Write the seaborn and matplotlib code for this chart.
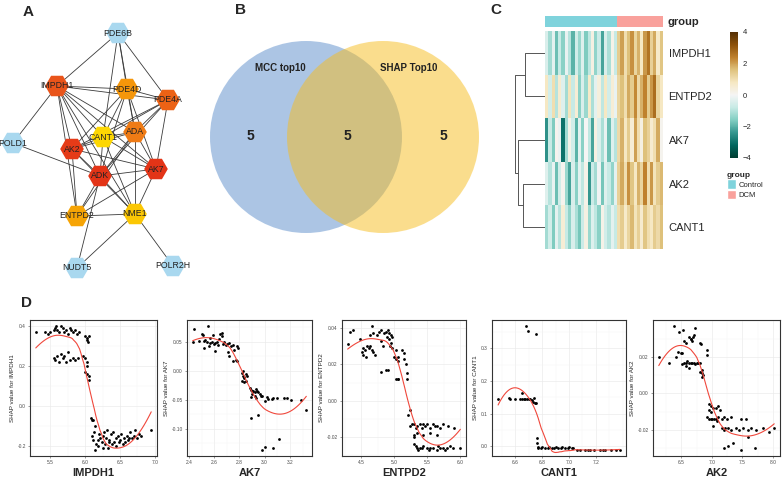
import numpy as np
import pandas as pd
import matplotlib
matplotlib.use("Agg")
import matplotlib.pyplot as plt
import seaborn as sns
from matplotlib.patches import Circle, Patch
from matplotlib.colors import ListedColormap
from matplotlib.ticker import AutoMinorLocator, FormatStrFormatter, FixedLocator

# ---------------- data ----------------
# A: PPI network (node layout as in the Cytoscape export, pixel units)
node_names = ["PDE6B", "IMPDH1", "PDE4D", "PDE4A", "POLD1", "CANT1", "ADA",
              "AK2", "AK7", "ADK", "ENTPD2", "NME1", "NUDT5", "POLR2H"]
node_x = [118, 57, 127, 168, 13, 103, 135, 72, 156, 100, 77, 135, 77, 173]
node_y = [33, 86, 89, 100, 143, 137, 132, 149, 169, 176, 216, 214, 268, 266]
node_colors = ["#a9d8ef", "#e9541a", "#f5960a", "#ec6215", "#a9d8ef", "#fdd703", "#ef7b15",
               "#e53b18", "#e33417", "#e33417", "#f6a405", "#fbc704", "#a9d8ef", "#a9d8ef"]
edges = [("PDE6B", "IMPDH1"), ("PDE6B", "PDE4D"), ("PDE6B", "PDE4A"), ("PDE6B", "CANT1"),
         ("PDE6B", "ADA"), ("IMPDH1", "PDE4D"), ("IMPDH1", "PDE4A"), ("IMPDH1", "CANT1"),
         ("IMPDH1", "ADA"), ("IMPDH1", "AK2"), ("IMPDH1", "ADK"), ("IMPDH1", "AK7"),
         ("IMPDH1", "ENTPD2"), ("IMPDH1", "POLD1"), ("IMPDH1", "NME1"), ("POLD1", "ADK"),
         ("PDE4D", "PDE4A"), ("PDE4D", "CANT1"), ("PDE4D", "ADA"), ("PDE4D", "ADK"),
         ("PDE4D", "AK7"), ("PDE4D", "AK2"), ("PDE4A", "ADA"), ("PDE4A", "CANT1"),
         ("PDE4A", "ADK"), ("PDE4A", "AK7"), ("PDE4A", "AK2"), ("CANT1", "AK2"),
         ("CANT1", "ADK"), ("CANT1", "AK7"), ("CANT1", "NME1"), ("CANT1", "ADA"),
         ("ADA", "ADK"), ("ADA", "AK2"), ("ADA", "AK7"), ("ADA", "NME1"), ("ADA", "ENTPD2"),
         ("AK2", "ADK"), ("AK2", "AK7"), ("AK2", "ENTPD2"), ("AK2", "NME1"),
         ("AK7", "ADK"), ("AK7", "ENTPD2"), ("AK7", "NME1"), ("ADK", "ENTPD2"),
         ("ADK", "NME1"), ("ADK", "NUDT5"), ("ENTPD2", "NME1"), ("NME1", "NUDT5"),
         ("NME1", "POLR2H")]

# B: Venn counts
venn_sets = ["MCC top10", "SHAP Top10"]
venn_counts = [5, 5, 5]  # left only, both, right only

# C: heatmap (z-scores), 22 Control + 14 DCM samples
hm_genes = ["IMPDH1", "ENTPD2", "AK7", "AK2", "CANT1"]
hm_groups = ["Control"] * 22 + ["DCM"] * 14
impdh1_z = [-0.5, -1.2, -0.3, -1.8, -0.8, -1.5, -0.2, -1.0, -2.0, -0.6, -1.3, -0.4, -1.6, -0.9, 0.3, -1.4,
            -0.7, -2.2, -0.5, -1.1, 0.2, -0.8,
            1.4, 2.0, 1.0, 1.6, 2.2, 1.2, 1.8, 0.8, 2.1, 2.6, 1.3, 1.9, 0.7, 1.5]
entpd2_z = [0.8, -0.6, 1.0, -1.0, 0.6, -0.4, -1.2, 0.9, -0.8, 0.5, -1.5, -0.5, -1.3, 0.7, -1.1, -0.3,
            0.4, -0.9, 0.8, -0.6, 0.5, -0.2,
            1.2, 1.6, 1.0, 1.9, 1.4, 2.3, 1.1, 1.8, 2.4, 1.4, 2.1, 2.7, 1.2, 0.8]
ak7_z = [-2.5, -0.8, -1.6, 0.1, -0.2, -3.0, -1.2, 0.2, -0.6, -2.0, -0.3, -1.5, 0.0, -0.9, -2.2, 0.3,
         -0.5, -1.1, -0.2, -1.8, -0.4, -1.0,
         1.1, 1.8, 0.8, 1.4, 0.5, 2.0, 1.0, 0.3, 1.6, 1.3, 0.6, 1.0, 1.9, 0.1]
ak2_z = [-0.4, -1.0, -0.2, -1.8, -0.6, 0.1, -1.3, -2.2, -0.5, -1.5, -0.3, -0.9, 0.2, -2.4, -0.7, -1.2,
         -0.1, -1.7, -0.4, -0.8, -1.4, -0.3,
         1.3, 1.9, 1.0, 2.2, 1.5, 0.8, 1.8, 1.2, 2.4, 1.0, 2.1, 0.9, 1.4, 1.7]
cant1_z = [-1.2, -0.6, -1.6, -0.3, -1.0, 0.5, -0.8, -1.4, -0.5, -1.1, -1.7, -0.7, 0.3, -1.3, -0.4, -0.9,
           -1.5, 0.2, -0.6, -1.0, -0.3, -0.8,
           1.0, 1.4, 0.7, 1.2, 1.7, 0.9, 1.3, 0.6, 1.5, 1.0, 0.8, 1.4, 1.1, 1.6]
# row dendrogram merges: (left cluster, right cluster, height)
dendro_merges = [("IMPDH1", "ENTPD2", 2.0), ("AK2", "CANT1", 2.2),
                 ("AK7", "AK2+CANT1", 2.7), ("IMPDH1+ENTPD2", "AK7+AK2+CANT1", 3.0)]
cbar_ticks = [-4, -2, 0, 2, 4]

# D: SHAP dependence points (expression, SHAP value)
impdh1_pts = [(5.29, 0.37), (5.42, 0.37), (5.47, 0.36), (5.50, 0.37), (5.55, 0.38), (5.57, 0.39),
              (5.58, 0.40), (5.60, 0.38), (5.62, 0.37), (5.65, 0.40), (5.68, 0.39), (5.70, 0.37),
              (5.72, 0.38), (5.75, 0.36), (5.78, 0.39), (5.80, 0.38), (5.83, 0.37), (5.86, 0.38),
              (5.88, 0.36), (5.91, 0.37), (6.00, 0.35), (6.02, 0.34), (6.03, 0.33), (6.05, 0.35),
              (6.04, 0.32), (5.55, 0.24), (5.57, 0.23), (5.60, 0.25), (5.62, 0.22), (5.65, 0.26),
              (5.68, 0.24), (5.70, 0.25), (5.72, 0.22), (5.75, 0.27), (5.78, 0.23), (5.82, 0.24),
              (5.85, 0.23), (5.90, 0.24), (5.97, 0.25), (6.00, 0.24), (6.02, 0.22), (6.03, 0.20),
              (6.00, 0.17), (6.02, 0.16), (6.05, 0.15), (6.06, 0.13), (6.08, -0.06), (6.10, -0.07),
              (6.12, -0.07), (6.14, -0.10), (6.13, -0.13), (6.10, -0.15), (6.12, -0.17),
              (6.14, -0.22), (6.16, -0.19), (6.18, -0.20), (6.20, -0.14), (6.22, -0.16),
              (6.24, -0.18), (6.25, -0.21), (6.27, -0.13), (6.28, -0.19), (6.30, -0.16),
              (6.32, -0.12), (6.33, -0.21), (6.35, -0.17), (6.37, -0.14), (6.38, -0.19),
              (6.40, -0.13), (6.42, -0.18), (6.44, -0.16), (6.45, -0.20), (6.47, -0.15),
              (6.50, -0.17), (6.52, -0.14), (6.54, -0.19), (6.56, -0.16), (6.58, -0.18),
              (6.60, -0.15), (6.62, -0.17), (6.65, -0.13), (6.68, -0.16), (6.70, -0.15),
              (6.72, -0.12), (6.75, -0.16), (6.78, -0.14), (6.80, -0.15), (6.95, -0.12),
              (6.18, -0.17), (6.26, -0.15), (6.34, -0.18), (6.48, -0.18), (6.63, -0.16)]
ak7_pts = [(2.44, 0.072), (2.55, 0.077), (2.50, 0.063), (2.51, 0.061), (2.52, 0.052), (2.53, 0.054),
           (2.52, 0.040), (2.57, 0.056), (2.57, 0.048), (2.58, 0.049), (2.60, 0.047), (2.61, 0.048),
           (2.63, 0.045), (2.59, 0.061), (2.61, 0.034), (2.64, 0.055), (2.65, 0.064), (2.66, 0.065),
           (2.66, 0.060), (2.67, 0.046), (2.69, 0.044), (2.70, 0.046), (2.73, 0.043), (2.75, 0.044),
           (2.78, 0.043), (2.79, 0.040), (2.71, 0.032), (2.72, 0.026), (2.75, 0.017), (2.77, 0.018),
           (2.78, 0.017), (2.43, 0.050), (2.48, 0.052), (2.54, 0.050), (2.56, 0.043), (2.62, 0.050),
           (2.68, 0.050), (2.72, 0.048), (2.76, 0.036), (2.82, -0.003), (2.83, -0.008),
           (2.84, -0.013), (2.84, -0.010), (2.85, -0.017), (2.86, -0.008), (2.82, -0.017),
           (2.83, 0.000), (2.85, -0.005), (2.84, -0.020), (2.88, -0.030), (2.89, -0.033),
           (2.90, -0.035), (2.91, -0.034), (2.92, -0.036), (2.93, -0.032), (2.94, -0.035),
           (2.95, -0.037), (2.90, -0.040), (2.92, -0.043), (2.93, -0.047), (2.89, -0.045),
           (2.96, -0.040), (2.97, -0.044), (2.98, -0.043), (3.00, -0.052), (3.02, -0.045),
           (3.03, -0.048), (3.06, -0.048), (3.07, -0.047), (3.10, -0.047), (3.15, -0.047),
           (3.18, -0.046), (3.21, -0.051), (3.29, -0.051), (3.33, -0.068), (2.89, -0.082),
           (2.95, -0.076), (3.11, -0.118), (3.07, -0.133), (3.00, -0.131), (2.98, -0.136)]
entpd2_pts = [(4.29, 0.031), (4.32, 0.038), (4.37, 0.039), (4.48, 0.034), (4.51, 0.027), (4.53, 0.029),
              (4.56, 0.028), (4.58, 0.030), (4.61, 0.029), (4.63, 0.030), (4.53, 0.025), (4.57, 0.024),
              (4.66, 0.028), (4.68, 0.027), (4.70, 0.025), (4.66, 0.041), (4.63, 0.036), (4.68, 0.037),
              (4.73, 0.036), (4.76, 0.038), (4.80, 0.039), (4.84, 0.037), (4.87, 0.038), (4.90, 0.039),
              (4.92, 0.037), (4.95, 0.036), (4.89, 0.035), (4.92, 0.034), (4.97, 0.035), (4.95, 0.032),
              (4.80, 0.033), (4.82, 0.030), (4.93, 0.030), (4.97, 0.029), (5.02, 0.028), (4.79, 0.016),
              (4.87, 0.017), (4.90, 0.017), (5.00, 0.024), (5.03, 0.023), (5.05, 0.024), (5.06, 0.022),
              (5.03, 0.012), (5.05, 0.012), (5.06, 0.012), (5.11, 0.028), (5.14, 0.026), (5.14, 0.023),
              (5.17, 0.020), (5.19, 0.015), (5.19, 0.012), (5.23, -0.005), (5.21, -0.008),
              (5.24, -0.014), (5.27, -0.013), (5.29, -0.013), (5.32, -0.015), (5.34, -0.014),
              (5.39, -0.013), (5.42, -0.015), (5.44, -0.013), (5.47, -0.014), (5.49, -0.013),
              (5.54, -0.015), (5.59, -0.013), (5.61, -0.014), (5.64, -0.014), (5.69, -0.015),
              (5.74, -0.013), (5.81, -0.014), (5.91, -0.015), (5.34, -0.018), (5.44, -0.019),
              (5.54, -0.018), (5.64, -0.019), (5.29, -0.019), (5.30, -0.020), (5.29, -0.024),
              (5.32, -0.025), (5.34, -0.026), (5.39, -0.026), (5.42, -0.026), (5.44, -0.025),
              (5.49, -0.026), (5.54, -0.026), (5.59, -0.026), (5.64, -0.027), (5.69, -0.026),
              (5.74, -0.026), (5.79, -0.026), (5.84, -0.025), (5.89, -0.026), (6.00, -0.026),
              (5.36, -0.027), (5.52, -0.027), (5.66, -0.025), (5.77, -0.027)]
cant1_pts = [(6.47, 0.146), (6.55, 0.149), (6.56, 0.145), (6.595, 0.145), (6.63, 0.146), (6.645, 0.144),
             (6.66, 0.146), (6.67, 0.144), (6.685, 0.146), (6.70, 0.144), (6.71, 0.145), (6.72, 0.141),
             (6.65, 0.162), (6.73, 0.136), (6.745, 0.133), (6.755, 0.132), (6.74, 0.149),
             (6.68, 0.368), (6.69, 0.352), (6.755, 0.344), (6.76, 0.025), (6.76, 0.009),
             (6.77, -0.002), (6.77, -0.005), (6.80, -0.003), (6.82, -0.005), (6.85, -0.003),
             (6.87, -0.005), (6.90, -0.003), (6.92, -0.005), (6.95, -0.003), (6.97, -0.005),
             (7.00, -0.003), (7.02, -0.004), (7.03, -0.005), (6.79, -0.006), (6.84, -0.006),
             (6.89, -0.006), (6.94, -0.006), (6.99, -0.006), (7.06, -0.011), (7.08, -0.011),
             (7.12, -0.011), (7.16, -0.011), (7.19, -0.011), (7.23, -0.011), (7.27, -0.011),
             (7.31, -0.011), (7.35, -0.011), (7.38, -0.011), (7.14, -0.011), (7.25, -0.011)]
ak2_pts = [(6.13, 0.020), (6.30, 0.017), (6.38, 0.037), (6.46, 0.034), (6.53, 0.035), (6.54, 0.029),
           (6.57, 0.028), (6.44, 0.023), (6.49, 0.022), (6.51, 0.0225), (6.41, 0.020), (6.62, 0.031),
           (6.65, 0.030), (6.66, 0.030), (6.69, 0.031), (6.70, 0.032), (6.67, 0.029), (6.73, 0.036),
           (6.81, 0.028), (6.82, 0.027), (6.92, 0.024), (6.92, 0.021), (6.54, 0.017), (6.57, 0.017),
           (6.60, 0.018), (6.62, 0.017), (6.65, 0.017), (6.67, 0.017), (6.70, 0.017), (6.73, 0.016),
           (6.76, 0.017), (6.78, 0.017), (6.81, 0.017), (6.51, 0.016), (6.57, 0.015), (6.63, 0.014),
           (6.81, 0.012), (6.84, 0.011), (6.86, 0.010), (6.84, 0.009), (6.83, 0.013), (6.96, -0.006),
           (6.98, -0.007), (6.95, -0.009), (6.99, -0.010), (7.02, -0.008), (7.07, -0.008),
           (7.10, -0.007), (7.13, -0.009), (6.92, -0.013), (6.95, -0.014), (6.98, -0.014),
           (7.00, -0.014), (7.03, -0.014), (7.06, -0.014), (7.08, -0.015), (7.10, -0.013),
           (7.16, -0.014), (7.19, -0.013), (7.24, -0.014), (7.32, -0.013), (7.48, -0.014),
           (7.56, -0.014), (7.01, -0.018), (7.16, -0.019), (7.19, -0.020), (7.21, -0.019),
           (7.27, -0.019), (7.32, -0.020), (7.40, -0.019), (7.45, -0.020), (7.51, -0.019),
           (7.59, -0.020), (7.64, -0.019), (7.72, -0.020), (7.83, -0.019), (7.94, -0.021),
           (8.02, -0.019), (7.19, -0.030), (7.27, -0.029), (7.35, -0.027), (7.48, -0.031),
           (7.70, -0.030), (7.59, -0.024)]
shap_genes = ["IMPDH1", "AK7", "ENTPD2", "CANT1", "AK2"]
shap_points = [impdh1_pts, ak7_pts, entpd2_pts, cant1_pts, ak2_pts]
shap_xticks = [[5.5, 6.0, 6.5, 7.0], [2.4, 2.6, 2.8, 3.0, 3.2], [4.5, 5.0, 5.5, 6.0],
               [6.6, 6.8, 7.0, 7.2], [6.5, 7.0, 7.5, 8.0]]
shap_yticks = [[-0.2, 0.0, 0.2, 0.4], [-0.10, -0.05, 0.00, 0.05], [-0.02, 0.00, 0.02, 0.04],
               [0.0, 0.1, 0.2, 0.3], [-0.02, 0.00, 0.02]]

# ---------------- layout helpers ----------------
W, H = 784, 478


def px(l, t, r, b):
    return [l / W, 1 - b / H, (r - l) / W, (b - t) / H]


def loess(x, y, span=0.75, n_out=80):
    # local quadratic fit with tricube weights (same defaults as R's loess / geom_smooth)
    n = len(x)
    q = int(np.floor(n * span))
    grid = np.linspace(x.min(), x.max(), n_out)
    fit = []
    for x0 in grid:
        d = np.abs(x - x0)
        h = np.sort(d)[q - 1]
        w = np.clip(1 - (d / h) ** 3, 0, None) ** 3
        A = np.vstack([np.ones(n), x - x0, (x - x0) ** 2]).T
        sw = np.sqrt(w)
        coef = np.linalg.lstsq(A * sw[:, None], y * sw, rcond=None)[0]
        fit.append(coef[0])
    return grid, np.array(fit)


sns.set_style("white")
plt.rcParams['font.family'] = ['Liberation Sans', 'DejaVu Sans']

fig = plt.figure(figsize=(W / 100, H / 100), dpi=100)

for lab, (x, y) in zip("ABCD", [(28, 12), (241, 10), (496, 10), (27, 303)]):
    fig.text(x / W, 1 - y / H, lab, fontsize=11, fontweight='bold', ha='center', va='center')

# ---------------- A: network ----------------
ax_a = fig.add_axes(px(0, 0, 200, 290))
pos = {n: (x, y) for n, x, y in zip(node_names, node_x, node_y)}
for a, b in edges:
    ax_a.plot([pos[a][0], pos[b][0]], [pos[a][1], pos[b][1]], color='#3a3a3a', lw=0.6, zorder=1)
ax_a.scatter(node_x, node_y, s=290, marker='H', c=node_colors, linewidths=0, zorder=2)
for n in node_names:
    ax_a.text(pos[n][0], pos[n][1], n, fontsize=6.3, ha='center', va='center', color='#222222', zorder=3)
ax_a.set_xlim(0, 200)
ax_a.set_ylim(290, 0)
ax_a.axis('off')

# ---------------- B: venn ----------------
ax_b = fig.add_axes(px(200, 30, 490, 250))
ax_b.add_patch(Circle((306, 137), 96, facecolor='#5b8dcb', alpha=0.5, lw=0))
ax_b.add_patch(Circle((383, 137), 96, facecolor='#f7bd1d', alpha=0.5, lw=0))
ax_b.text(280, 68, venn_sets[0], fontsize=7, fontweight='bold', ha='center', va='center', color='#222222')
ax_b.text(409, 68, venn_sets[1], fontsize=7, fontweight='bold', ha='center', va='center', color='#222222')
for cx, c in zip([250, 347, 443], venn_counts):
    ax_b.text(cx, 136, str(c), fontsize=10, fontweight='bold', ha='center', va='center', color='#222222')
ax_b.set_xlim(200, 490)
ax_b.set_ylim(250, 30)
ax_b.axis('off')

# ---------------- C: heatmap ----------------
hm = pd.DataFrame([impdh1_z, entpd2_z, ak7_z, ak2_z, cant1_z], index=hm_genes)
ax_c = fig.add_axes(px(545, 31, 663, 249))
ax_cb = fig.add_axes(px(730, 32, 738, 158))
sns.heatmap(hm, ax=ax_c, cmap='BrBG_r', vmin=-4, vmax=4, cbar_ax=ax_cb,
            xticklabels=False, yticklabels=True)
ax_c.yaxis.tick_right()
ax_c.tick_params(axis='y', length=0, labelsize=8, pad=4, labelrotation=0)
cb = ax_c.collections[0].colorbar
cb.set_ticks(cbar_ticks)
cb.outline.set_visible(False)
cb.ax.tick_params(labelsize=5.5, length=2, width=0.4, color='white', pad=1.5)

ax_g = fig.add_axes(px(545, 16, 663, 27))
group_codes = pd.DataFrame([[0 if g == "Control" else 1 for g in hm_groups]])
sns.heatmap(group_codes, ax=ax_g, cmap=ListedColormap(['#7fd3dc', '#f9a19c']), cbar=False,
            xticklabels=False, yticklabels=False)
fig.text(668 / W, 1 - 22 / H, "group", fontsize=8, fontweight='bold', ha='left', va='center')

handles = [Patch(facecolor='#7fd3dc', label='Control'), Patch(facecolor='#f9a19c', label='DCM')]
leg = ax_c.legend(handles=handles, title='group', loc='upper left',
                  bbox_to_anchor=(727 / W, 1 - 172 / H), bbox_transform=fig.transFigure,
                  frameon=False, fontsize=5.5, handlelength=1.2, handleheight=1.6,
                  handletextpad=0.3, labelspacing=0.05, borderaxespad=0, borderpad=0,
                  title_fontproperties={'weight': 'bold', 'size': 6})
leg._legend_box.align = 'left'

# row dendrogram
ax_d = fig.add_axes(px(515, 31, 545, 249))
nodes = {g: (i + 0.5, 0.0) for i, g in enumerate(hm_genes)}
for left, right, h in dendro_merges:
    (y1, h1), (y2, h2) = nodes[left], nodes[right]
    ax_d.plot([h1, h, h, h2], [y1, y1, y2, y2], color='#555555', lw=0.7)
    nodes[left + "+" + right] = ((y1 + y2) / 2, h)
ax_d.set_xlim(3.0, 0)
ax_d.set_ylim(len(hm_genes), 0)
ax_d.axis('off')

# ---------------- D: SHAP dependence ----------------
d_cols = [(30, 157), (187, 312), (342, 466), (492, 626), (653, 780)]
y_fmt = ['%.1f', '%.2f', '%.2f', '%.1f', '%.2f']
for (l, r), gene, pts, xt, yt, fmt in zip(d_cols, shap_genes, shap_points, shap_xticks, shap_yticks, y_fmt):
    ax = fig.add_axes(px(l, 320, r, 456))
    xs = np.array([p[0] for p in pts])
    ys = np.array([p[1] for p in pts])
    ax.set_axisbelow(True)
    sns.scatterplot(x=xs, y=ys, ax=ax, color='black', s=4, linewidth=0, zorder=3)
    gx, gy = loess(xs, ys)
    sns.lineplot(x=gx, y=gy, ax=ax, color='#f0483c', lw=0.8, zorder=4)
    span_x = xs.max() - xs.min()
    span_y = ys.max() - ys.min()
    ax.set_xlim(xs.min() - 0.05 * span_x, xs.max() + 0.05 * span_x)
    ax.set_ylim(ys.min() - 0.05 * span_y, ys.max() + 0.05 * span_y)
    ax.xaxis.set_major_locator(FixedLocator(xt))
    ax.yaxis.set_major_locator(FixedLocator(yt))
    ax.xaxis.set_major_formatter(FormatStrFormatter('%.1f'))
    ax.yaxis.set_major_formatter(FormatStrFormatter(fmt))
    ax.xaxis.set_minor_locator(AutoMinorLocator(2))
    ax.yaxis.set_minor_locator(AutoMinorLocator(2))
    ax.grid(True, which='major', color='#ebebeb', lw=0.5)
    ax.grid(True, which='minor', color='#f4f4f4', lw=0.3)
    ax.tick_params(which='major', labelsize=3.5, length=1.5, width=0.4, color='#4d4d4d',
                   labelcolor='#4d4d4d', pad=1.5, bottom=True, left=True)
    ax.tick_params(which='minor', length=0)
    for s in ax.spines.values():
        s.set_color('#333333')
        s.set_linewidth(0.8)
    ax.set_xlabel(gene, fontsize=8, fontweight='bold', labelpad=2)
    ax.set_ylabel(f"SHAP value for {gene}", fontsize=4.5, labelpad=2)

fig.savefig("out.png", dpi=100)
